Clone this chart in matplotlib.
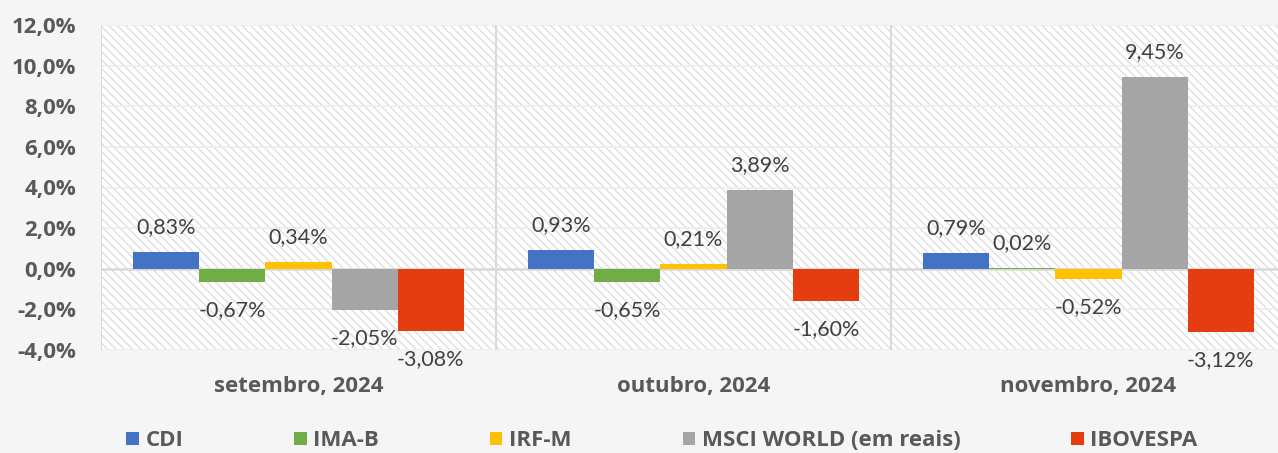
import matplotlib
matplotlib.use("Agg")
import matplotlib.pyplot as plt
import numpy as np
from matplotlib.patches import Patch, Rectangle

categories = ["setembro, 2024", "outubro, 2024", "novembro, 2024"]
series_names = ["CDI", "IMA-B", "IRF-M", "MSCI WORLD (em reais)", "IBOVESPA"]
cdi = [0.83, 0.93, 0.79]
ima_b = [-0.67, -0.65, 0.02]
irf_m = [0.34, 0.21, -0.52]
msci = [-2.05, 3.89, 9.45]
ibov = [-3.08, -1.60, -3.12]
yticks = [-4, -2, 0, 2, 4, 6, 8, 10, 12]

series = [cdi, ima_b, irf_m, msci, ibov]
colors = ["#4472C4", "#70AD47", "#FFC000", "#A5A5A5", "#E53C10"]

plt.rcParams['font.family'] = ['Lato', 'DejaVu Sans']
plt.rcParams['hatch.linewidth'] = 0.9
plt.rcParams['hatch.color'] = '#dcdcdc'
BOLD = ['Open Sans', 'DejaVu Sans']

W, H = 1278, 453
fig = plt.figure(figsize=(W/100, H/100), dpi=100)
fig.patch.set_facecolor('#f5f5f5')
left, right, top, bottom = 101, 1286, 25, 350
ax = fig.add_axes([left/W, 1-bottom/H, (right-left)/W, (bottom-top)/H])
ax.set_facecolor('white')
ax.add_patch(Rectangle((0, 0), 1, 1, transform=ax.transAxes, facecolor='white',
                       edgecolor='#dcdcdc', hatch='\\\\\\\\', linewidth=0, zorder=0))

x = np.arange(len(categories))
bw = 0.1675
n = len(series)
for i, (vals, c) in enumerate(zip(series, colors)):
    pos = x + (i - (n-1)/2) * bw
    ax.bar(pos, vals, width=bw, color=c, zorder=3, linewidth=0)
    for px, v in zip(pos, vals):
        lab = f"{v:.2f}%".replace('.', ',')
        off = 18 if v >= 0 else -20
        ax.annotate(lab, (px, v), xytext=(0, off), textcoords='offset points',
                    ha='center', va='center', fontsize=15.5, color='#404040',
                    zorder=4, annotation_clip=False)

ax.set_xlim(-0.5, len(categories)-0.5)
ax.set_ylim(-4, 12)
for yv in yticks:
    ax.axhline(yv, color='#ececec', linewidth=1.2, zorder=1)
ax.axhline(0, color='#d9d9d9', linewidth=1.8, zorder=2)
for b in np.arange(-0.5, len(categories), 1.0):
    ax.axvline(b, color='#d9d9d9', linewidth=1.5, zorder=2)

ax.set_yticks(yticks)
ax.set_yticklabels([f"{v:.1f}%".replace('.', ',') for v in yticks],
                   fontsize=16, fontweight='bold', color='#595959', family=BOLD)
ax.set_xticks(x)
ax.set_xticklabels(categories, fontsize=16, fontweight='bold', color='#595959', family=BOLD)
ax.tick_params(axis='y', length=0, pad=18)
ax.tick_params(axis='x', length=0, pad=19)
for s in ax.spines.values():
    s.set_visible(False)

handles = [Patch(facecolor=c, edgecolor='none') for c in colors]
leg = fig.legend(handles, series_names, loc='center', ncol=5,
                 bbox_to_anchor=(662/W, 1-441/H), frameon=False,
                 prop={'size': 16, 'weight': 'bold', 'family': BOLD},
                 handlelength=0.55, handleheight=0.55, handletextpad=0.3,
                 columnspacing=5.0)
for t in leg.get_texts():
    t.set_color('#595959')

fig.savefig('out.png', dpi=100, facecolor=fig.get_facecolor())
